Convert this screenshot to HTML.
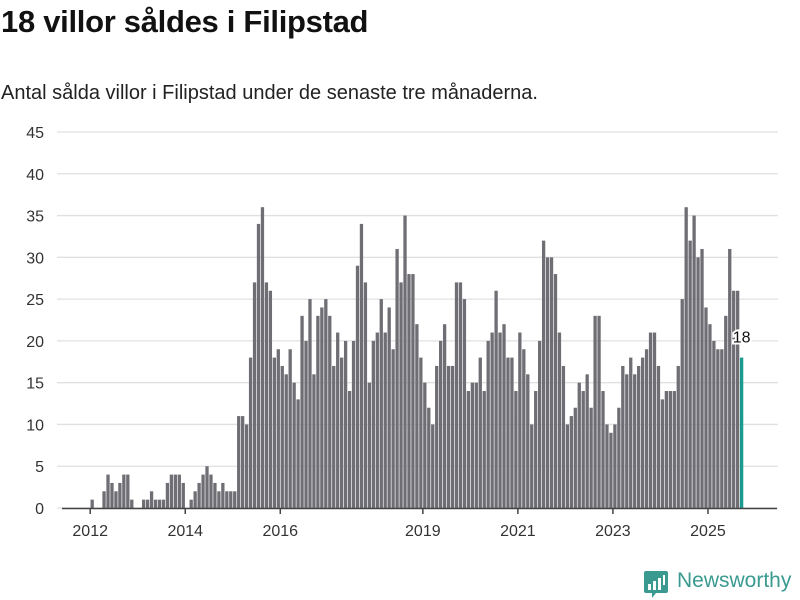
<!DOCTYPE html>
<html><head><meta charset="utf-8">
<style>
body{margin:0;background:#fff;font-family:"Liberation Sans",sans-serif;}
#wrap{position:relative;width:800px;height:600px;overflow:hidden;}
h1{position:absolute;left:1px;top:4px;margin:0;font-size:31px;font-weight:bold;color:#111;letter-spacing:-0.3px;}
p.sub{position:absolute;left:1px;top:82px;margin:0;font-size:20px;color:#222;}
</style></head><body>
<div id="wrap">
<h1>18 villor såldes i Filipstad</h1>
<p class="sub">Antal sålda villor i Filipstad under de senaste tre månaderna.</p>
<svg id="chart" width="800" height="600" style="position:absolute;left:0;top:0"></svg>
<div style="position:absolute;left:644px;top:569px;width:160px;height:32px;">
<svg width="24" height="30" style="position:absolute;left:0;top:2px"><path d="M2 0h20a2 2 0 0 1 2 2v18a2 2 0 0 1-2 2H12l-4 5v-5H2a2 2 0 0 1-2-2V2a2 2 0 0 1 2-2z" fill="#3a9a90"/><rect x="4" y="13" width="3" height="6" fill="#fff"/><rect x="9" y="10" width="3" height="9" fill="#fff"/><rect x="14" y="7" width="3" height="12" fill="#fff"/><rect x="19" y="4" width="2" height="10" fill="#fff"/></svg>
<span style="position:absolute;left:33px;top:0px;font-size:21px;color:#3a9a90;">Newsworthy</span>
</div>
</div>
<script>
const values = [1,0,0,2,4,3,2,3,4,4,1,0,0,1,1,2,1,1,1,3,4,4,4,3,0,1,2,3,4,5,4,3,2,3,2,2,2,
11,11,10,18,27,34,36,27,26,18,19,17,16,19,15,13,23,20,25,16,23,24,25,23,17,21,18,20,14,20,29,34,27,15,20,21,25,21,24,19,31,27,35,
28,28,22,18,15,12,10,17,20,22,17,17,27,27,25,14,15,15,18,14,20,21,26,21,22,18,18,14,21,19,16,10,14,20,32,30,30,28,21,17,
10,11,12,15,14,16,12,23,23,14,10,9,10,12,17,16,18,16,17,18,19,21,21,17,13,14,14,14,17,25,36,32,35,30,31,24,22,20,19,19,23,31,26,26,18];
const yTicks = [0,5,10,15,20,25,30,35,40,45];
const xTickYears = [2012,2014,2016,2019,2021,2023,2025];
const startYear = 2012;

const svg = document.getElementById('chart');
const NS = 'http://www.w3.org/2000/svg';
const step = 3.96, x0 = 90.2;
function xMonth(m){ return x0 + (m + 0.5) * step; }
function xYear(yr){ return x0 + (yr - startYear) * 12 * step; }
function y(v){ return 508 - v * (376 / 45); }
function mk(tag, attrs){ const e = document.createElementNS(NS, tag); for (const k in attrs) e.setAttribute(k, attrs[k]); svg.appendChild(e); return e; }

yTicks.forEach(t => {
  const g = mk('line', {x1:57, x2:778, y1:y(t), y2:y(t), stroke:'#e0e0e0', 'stroke-width':1.3});
  
  
  const l = mk('text', {x:44, y:y(t)+6, 'text-anchor':'end', 'font-size':16, fill:'#333', 'font-family':'Liberation Sans, sans-serif'});
  l.textContent = t;
  
  
});

values.forEach((v, i) => {
  const last = i === values.length - 1;
  const r = mk('rect', {x:xMonth(i) - 1.65, y:y(v), width:3.3, height:508 - y(v), fill: last ? '#1a9a8e' : '#6f6e74'});
  
  
});

const ax = mk('line', {x1:62, x2:777, y1:508.5, y2:508.5, stroke:'#444', 'stroke-width':1.5});



xTickYears.forEach(yr => {
  const x = xYear(yr);
  const t = mk('line', {x1:x, x2:x, y1:508, y2:514, stroke:'#444', 'stroke-width':1.5});
  
  
  const l = mk('text', {x:x, y:536, 'text-anchor':'middle', 'font-size':16, fill:'#333', 'font-family':'Liberation Sans, sans-serif'});
  l.textContent = yr;
  
  
});

const li = values.length - 1;
const lbl = mk('text', {x:xMonth(li), y:y(values[li]) - 15, 'text-anchor':'middle', 'font-size':16, fill:'#111', stroke:'#fff', 'stroke-width':4, 'paint-order':'stroke', 'font-family':'Liberation Sans, sans-serif'});
lbl.textContent = values[li];


</script>
</body></html>
